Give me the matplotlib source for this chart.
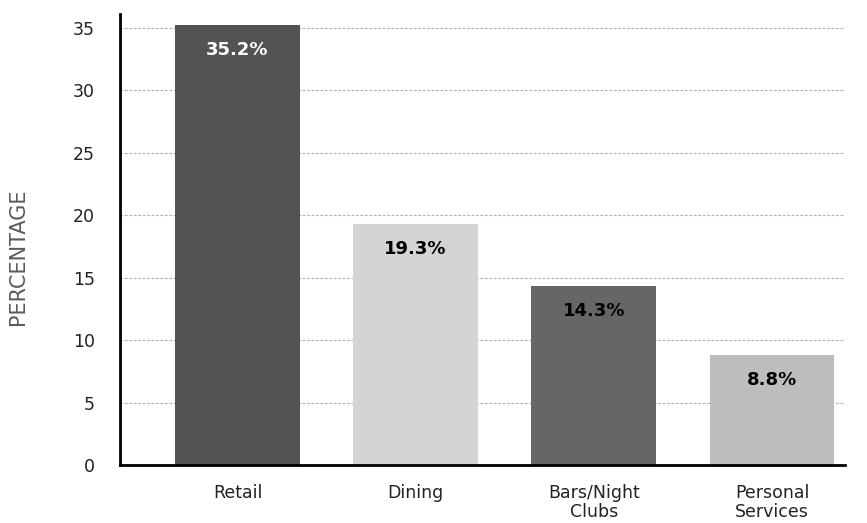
import matplotlib
matplotlib.use("Agg")
import matplotlib.pyplot as plt

categories = ["Retail", "Dining", "Bars/Night\nClubs", "Personal\nServices"]
values = [35.2, 19.3, 14.3, 8.8]
bar_colors = ["#535353", "#d4d4d4", "#666666", "#bdbdbd"]
label_colors = ["white", "black", "black", "black"]
yticks = [0, 5, 10, 15, 20, 25, 30, 35]

plt.rcParams["font.family"] = ["DejaVu Sans"]

fig = plt.figure(figsize=(8.67, 5.23), dpi=100)
ax = fig.add_axes([0.1384, 0.1109, 0.8362, 0.8623])

x = range(len(categories))
bars = ax.bar(x, values, width=0.70, color=bar_colors, zorder=2)

# value labels just inside the top of each bar
for b, v, c in zip(bars, values, label_colors):
    ax.annotate(f"{v}%", (b.get_x() + b.get_width() / 2, v),
                xytext=(0, -18), textcoords="offset points",
                ha="center", va="center", fontsize=13,
                fontweight="bold", color=c, zorder=3)

ax.set_xlim(-0.66, 3.41)
ax.set_ylim(0, 36.1)
ax.set_yticks(yticks)
ax.set_xticks(list(x))
ax.set_xticklabels(categories, fontsize=12.5, color="#222222", linespacing=1.05)
ax.tick_params(axis="y", length=0, pad=18, labelsize=12.5, labelcolor="#222222")
ax.tick_params(axis="x", length=0, pad=14)

for t in yticks[1:]:
    ax.axhline(t, color="#b0b0b0", lw=0.8, ls=(0, (2.5, 1.5)), zorder=1)

for side in ["top", "right"]:
    ax.spines[side].set_visible(False)
ax.spines["left"].set_linewidth(2)
ax.spines["bottom"].set_linewidth(2)

ax.set_ylabel("PERCENTAGE", fontsize=15, color="#5a5a5a")
ax.yaxis.set_label_coords(-0.127, 0.462)

fig.savefig("out.png", dpi=100)
